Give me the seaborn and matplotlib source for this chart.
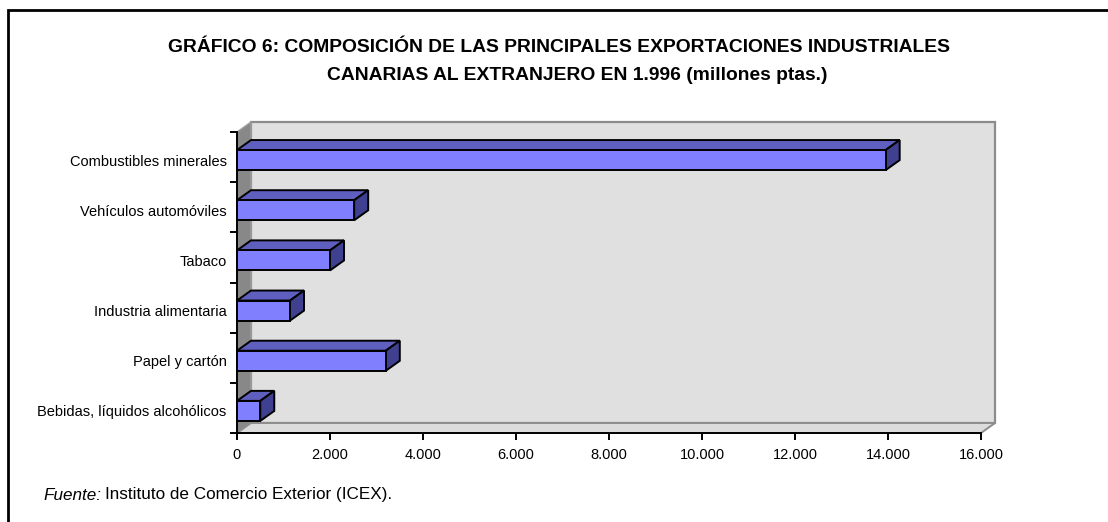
import numpy as np
import pandas as pd
import matplotlib
matplotlib.use("Agg")
import matplotlib.pyplot as plt
import seaborn as sns
from matplotlib.patches import Polygon, Rectangle
from matplotlib.ticker import FixedLocator, FuncFormatter, NullFormatter
from matplotlib.transforms import ScaledTranslation

# ---------------- data ----------------
categories = ["Combustibles minerales", "Vehículos automóviles", "Tabaco",
              "Industria alimentaria", "Papel y cartón", "Bebidas, líquidos alcohólicos"]
values = [13950, 2520, 2000, 1140, 3200, 500]
x_ticks = [0, 2000, 4000, 6000, 8000, 10000, 12000, 14000, 16000]
title_line1 = "GRÁFICO 6: COMPOSICIÓN DE LAS PRINCIPALES EXPORTACIONES INDUSTRIALES"
title_line2 = "CANARIAS AL EXTRANJERO EN 1.996 (millones ptas.)"
source_label = "Fuente:"
source_text = "Instituto de Comercio Exterior (ICEX)."

# ---------------- style ----------------
sns.set_theme(style="white")
plt.rcParams["font.family"] = ["Liberation Sans", "DejaVu Sans"]

W, H = 1108, 522
fig = plt.figure(figsize=(W / 100, H / 100), dpi=100)
fig.patch.set_facecolor("white")

ax_l, ax_r, ax_t, ax_b = 237, 981, 132, 433
ax = fig.add_axes([ax_l / W, 1 - ax_b / H, (ax_r - ax_l) / W, (ax_b - ax_t) / H])
ax.patch.set_visible(False)

df = pd.DataFrame({"categoria": categories, "valor": values})
sns.barplot(data=df, x="valor", y="categoria", orient="h", width=0.4,
            color="#8080ff", saturation=1, edgecolor="black", linewidth=1.4,
            ax=ax, zorder=4)
bars = list(ax.patches)
ax.set_xlim(0, 16000)
ax.set_ylim(len(categories) - 0.5, -0.5)

# 3D depth (pixels) converted to axes / data units
DX, DY = 14, 10
ax_w, ax_h = ax_r - ax_l, ax_b - ax_t
dxa, dya = DX / ax_w, DY / ax_h
dxd = DX / ax_w * 16000
dyd = DY / (ax_h / len(categories))

# bars sit slightly below the centre of their category band (Excel 3D look)
shift = ScaledTranslation(0, -3 / 100, fig.dpi_scale_trans)

# walls
back = Rectangle((dxa, dya), 1, 1, transform=ax.transAxes, facecolor="#e0e0e0",
                 edgecolor="#8c8c8c", lw=1.6, zorder=0, clip_on=False)
ax.add_patch(back)
side = Polygon([(0, 0), (dxa, dya), (dxa, 1 + dya), (0, 1)], closed=True,
               transform=ax.transAxes, facecolor="#888888", edgecolor="#a0a0a0",
               lw=1.0, zorder=1, clip_on=False)
ax.add_patch(side)
floor = Polygon([(0, 0), (1, 0), (1 + dxa, dya), (dxa, dya)], closed=True,
                transform=ax.transAxes, facecolor="#dcdcdc", edgecolor="#8c8c8c",
                lw=1.4, zorder=1, clip_on=False)
ax.add_patch(floor)

# 3D faces of bars
for p in bars:
    x0, y0, w, h = p.get_x(), p.get_y(), p.get_width(), p.get_height()
    top = Polygon([(x0, y0), (x0 + w, y0), (x0 + w + dxd, y0 - dyd), (x0 + dxd, y0 - dyd)],
                  closed=True, facecolor="#5f5fbf", edgecolor="black", lw=1.4,
                  zorder=3, clip_on=False, transform=ax.transData + shift)
    sd = Polygon([(x0 + w, y0), (x0 + w, y0 + h), (x0 + w + dxd, y0 + h - dyd),
                  (x0 + w + dxd, y0 - dyd)],
                 closed=True, facecolor="#404090", edgecolor="black", lw=1.4,
                 zorder=3, clip_on=False, transform=ax.transData + shift)
    ax.add_patch(top)
    ax.add_patch(sd)
    p.set_transform(ax.transData + shift)
    p.set_clip_on(False)

# spines
for s in ["top", "right"]:
    ax.spines[s].set_visible(False)
for s in ["left", "bottom"]:
    ax.spines[s].set_visible(True)
    ax.spines[s].set_color("black")
    ax.spines[s].set_linewidth(1.4)
    ax.spines[s].set_zorder(5)

# ticks
ax.set_xlabel("")
ax.set_ylabel("")
ax.xaxis.set_major_locator(FixedLocator(x_ticks))
ax.xaxis.set_major_formatter(FuncFormatter(lambda v, pos: f"{int(v):,}".replace(",", ".")))
ax.tick_params(axis="x", which="major", direction="out", length=5, width=1.4,
               color="black", pad=5.5, labelsize=10.5, labelcolor="black", bottom=True)

ax.yaxis.set_major_locator(FixedLocator(np.arange(-0.5, len(categories), 1.0)))
ax.yaxis.set_major_formatter(NullFormatter())
ax.yaxis.set_minor_locator(FixedLocator(np.arange(len(categories))))
ax.yaxis.set_minor_formatter(FuncFormatter(lambda v, pos: categories[int(round(v))]))
ax.tick_params(axis="y", which="major", direction="out", length=5, width=1.4,
               color="black", left=True)
ax.tick_params(axis="y", which="minor", length=0, pad=7.5, labelsize=10.5,
               labelcolor="black", left=True)
for lbl in ax.get_yticklabels(minor=True):
    lbl.set_transform(lbl.get_transform() + shift)

# title
fig.text(559 / W, 1 - 48 / H, title_line1, ha="center", va="center",
         fontsize=13.9, fontweight="bold", color="black")
fig.text(577 / W, 1 - 75 / H, title_line2, ha="center", va="center",
         fontsize=13.9, fontweight="bold", color="black")

# source
fig.text(43 / W, 1 - 496 / H, source_label, ha="left", va="center",
         fontsize=12.3, style="italic", color="black")
fig.text(105 / W, 1 - 495 / H, source_text, ha="left", va="center",
         fontsize=12.3, color="black")

# outer frame (right/bottom edges fall outside the image)
frame = Rectangle((8 / W, -0.1), 1.2, 1 - 10 / H + 0.1, transform=fig.transFigure,
                  fill=False, edgecolor="black", lw=2, clip_on=False)
fig.patches.append(frame)

fig.savefig("out.png", dpi=100)
